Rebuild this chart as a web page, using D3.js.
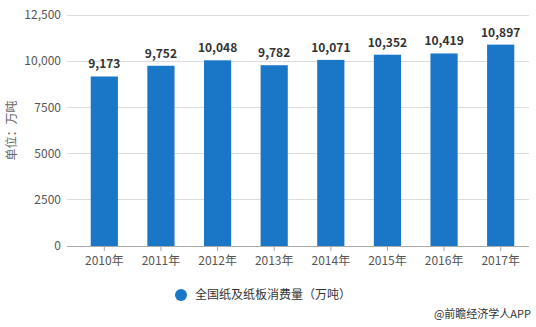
<!DOCTYPE html>
<html>
<head>
<meta charset="utf-8">
<script src="https://cdn.jsdelivr.net/npm/d3@7"></script>
<style>
  html, body { margin: 0; padding: 0; background: #fff; }
  svg { display: block; font-family: "Microsoft YaHei", "Noto Sans CJK SC", sans-serif; }
</style>
</head>
<body>
<svg id="chart" width="536" height="327"></svg>
<script>
// Paper and paperboard consumption in China, 10k tonnes
const years = ["2010年", "2011年", "2012年", "2013年", "2014年", "2015年", "2016年", "2017年"];
const consumption = [9173, 9752, 10048, 9782, 10071, 10352, 10419, 10897];
const yTickValues = [0, 2500, 5000, 7500, 10000, 12500];
const yTickLabels = ["0", "2500", "5000", "7500", "10,000", "12,500"];
const seriesName = "全国纸及纸板消费量（万吨）";
const yAxisTitle = "单位：万吨";
const credit = "@前瞻经济学人APP";

const svg = d3.select("#chart");
const barColor = "#1a76c6";

const x = d3.scaleBand().domain(years).range([76, 529]).paddingInner(0.52).paddingOuter(0.26);
const y = d3.scaleLinear().domain([0, 12500]).range([246, 15]);

// horizontal grid lines
svg.append("g").selectAll("line")
  .data(yTickValues.filter(v => v > 0))
  .join("line")
  .attr("x1", 67).attr("x2", 529)
  .attr("y1", d => y(d)).attr("y2", d => y(d))
  .attr("stroke", "#dcdcdc").attr("stroke-width", 1)
  .attr("shape-rendering", "crispEdges");

// y axis labels
svg.append("g").selectAll("text")
  .data(yTickValues)
  .join("text")
  .attr("x", 61).attr("y", d => y(d))
  .attr("dy", "0.35em")
  .attr("text-anchor", "end")
  .attr("font-size", 12)
  .attr("fill", "#555")
  .text((d, i) => yTickLabels[i]);

// y axis title
svg.append("text")
  .attr("transform", `translate(12,${y(6250)}) rotate(-90)`)
  .attr("text-anchor", "middle")
  .attr("dy", "0.35em")
  .attr("font-size", 12)
  .attr("fill", "#666")
  .text(yAxisTitle);

// bars
svg.append("g").selectAll("rect")
  .data(consumption)
  .join("rect")
  .attr("x", (d, i) => x(years[i]))
  .attr("width", x.bandwidth())
  .attr("y", d => y(d))
  .attr("height", d => y(0) - y(d))
  .attr("fill", barColor);

// value labels
svg.append("g").selectAll("text")
  .data(consumption)
  .join("text")
  .attr("x", (d, i) => x(years[i]) + x.bandwidth() / 2)
  .attr("y", d => y(d) - 8)
  .attr("text-anchor", "middle")
  .attr("font-size", 12)
  .attr("font-weight", "bold")
  .attr("fill", "#333")
  .text(d => d3.format(",")(d));

// x axis
const xAxis = svg.append("g").attr("transform", `translate(0,${y(0)})`)
  .call(d3.axisBottom(x).tickSize(5).tickPadding(5).tickSizeOuter(0));
xAxis.select(".domain").attr("stroke", "#aaa").attr("d", "M67,0.5H529");
xAxis.selectAll(".tick line").attr("stroke", "#aaa");
xAxis.selectAll(".tick text").attr("font-size", 12).attr("fill", "#555")
  .attr("font-family", "\"Noto Sans CJK SC\", sans-serif");

// legend
const legend = svg.append("g").attr("transform", "translate(181,295)");
legend.append("circle").attr("r", 6).attr("fill", barColor);
legend.append("text").attr("x", 14).attr("dy", "0.35em")
  .attr("font-size", 12).attr("fill", "#333").text(seriesName);

// credit line
svg.append("text")
  .attr("x", 531).attr("y", 314)
  .attr("text-anchor", "end")
  .attr("dy", "0.35em")
  .attr("font-size", 11)
  .attr("fill", "#333")
  .text(credit);
</script>
</body>
</html>
